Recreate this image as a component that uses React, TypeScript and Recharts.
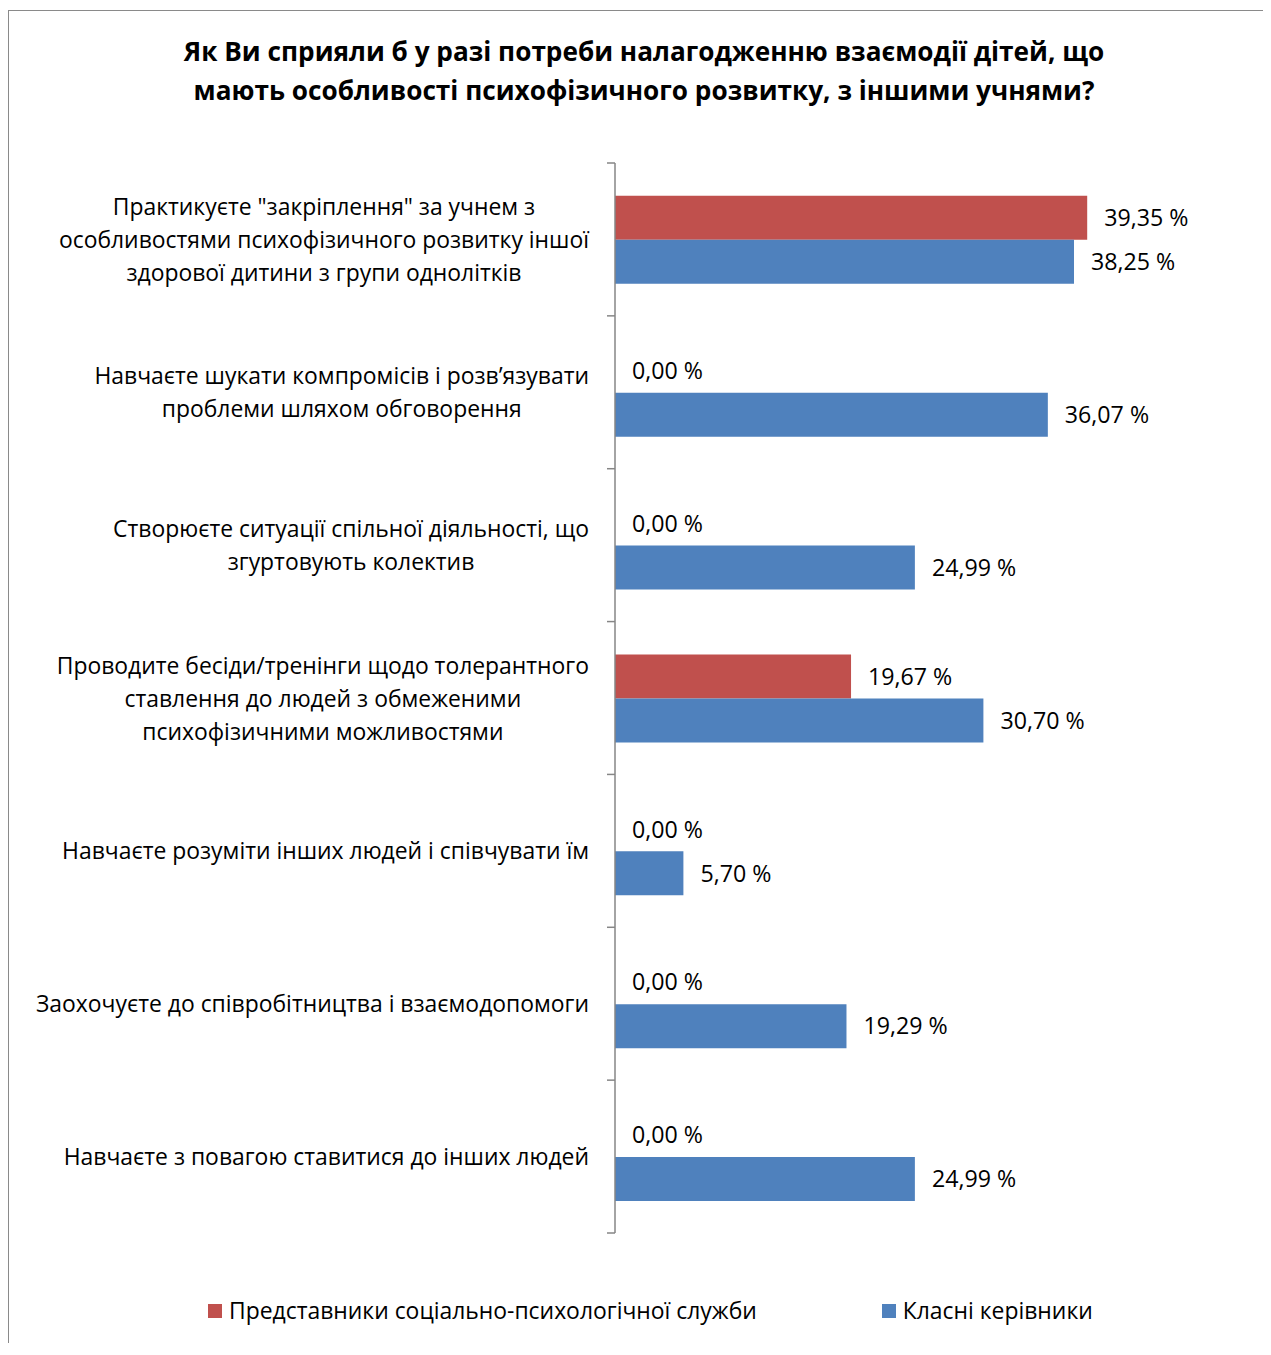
import React from "react";
import { BarChart, Bar, XAxis, YAxis, LabelList } from "recharts";

const categories = [
  "Практикуєте \"закріплення\" за учнем з\nособливостями психофізичного розвитку іншої\nздорової дитини з групи однолітків",
  "Навчаєте шукати компромісів і розв’язувати\nпроблеми шляхом обговорення",
  "Створюєте ситуації спільної діяльності, що\nзгуртовують колектив",
  "Проводите бесіди/тренінги щодо толерантного\nставлення до людей з обмеженими\nпсихофізичними можливостями",
  "Навчаєте розуміти інших людей і співчувати їм",
  "Заохочуєте до співробітництва і взаємодопомоги",
  "Навчаєте з повагою ставитися до інших людей",
];

const socialService = [39.35, 0, 0, 19.67, 0, 0, 0];
const classTeachers = [38.25, 36.07, 24.99, 30.7, 5.7, 19.29, 24.99];

const seriesNames = ["Представники соціально-психологічної служби", "Класні керівники"];
const seriesColors = ["#C0504D", "#4F81BD"];

const title = [
  "Як Ви сприяли б у разі потреби налагодженню взаємодії дітей, що",
  "мають особливості психофізичного розвитку, з іншими учнями?",
];

const rows = categories.map((name, i) => ({
  name,
  a: socialService[i],
  b: classTeachers[i],
}));

const FONT = "'Open Sans', 'Liberation Sans', Arial, sans-serif";
const FONT_SIZE = 22.9;
const LABEL_SIZE = 23.2;
const W = 1255;
const H = 1335;
const MARGIN = { top: 155, right: 48, bottom: H - 1225, left: 0 };
const PLOT_H = H - MARGIN.top - MARGIN.bottom;
const TICK_SIZE = 8;
const TICK_MARGIN = 18;
const AXIS_COLOR = "#868686";

let ctx: CanvasRenderingContext2D | null = null;
function measure(s: string): number {
  if (!ctx) ctx = document.createElement("canvas").getContext("2d");
  if (!ctx) return s.length * FONT_SIZE * 0.55;
  ctx.font = `${FONT_SIZE}px ${FONT}`;
  return ctx.measureText(s).width;
}

function CategoryTick(props: any) {
  const { x, y, payload, index } = props;
  const lines: string[] = String(payload.value).split("\n");
  const maxW = Math.max(...lines.map(measure));
  const cx = x - maxW / 2;
  const lh = 33;
  const y0 = y - ((lines.length - 1) * lh) / 2;
  const band = PLOT_H / categories.length;
  const ax = x + TICK_MARGIN;
  return (
    <g>
      {lines.map((ln, i) => (
        <text
          key={i}
          x={cx}
          y={y0 + i * lh}
          textAnchor="middle"
          dominantBaseline="central"
          fontFamily={FONT}
          fontSize={FONT_SIZE}
          fill="#000"
        >
          {ln}
        </text>
      ))}
      <line x1={ax} x2={ax + TICK_SIZE} y1={y - band / 2} y2={y - band / 2} stroke={AXIS_COLOR} strokeWidth={1.5} />
      {index === categories.length - 1 && (
        <line x1={ax} x2={ax + TICK_SIZE} y1={y + band / 2} y2={y + band / 2} stroke={AXIS_COLOR} strokeWidth={1.5} />
      )}
    </g>
  );
}

const fmt = (v: any) => Number(v).toFixed(2).replace(".", ",") + " %";

export default function App() {
  return (
    <div style={{ position: "relative", width: W, height: H, overflow: "hidden", background: "#fff" }}>
      <div
        style={{
          position: "absolute",
          left: 0,
          top: 2,
          width: W + 40,
          height: H + 40,
          borderTop: "1.5px solid #8a8a8a",
          borderLeft: "1.5px solid #8a8a8a",
        }}
      />
      <div
        style={{
          position: "absolute",
          left: 0,
          top: 24,
          width: 1272,
          textAlign: "center",
          fontFamily: FONT,
          fontWeight: "bold",
          fontSize: 26.2,
          lineHeight: "39px",
          color: "#000",
        }}
      >
        {title.map((t) => (
          <div key={t}>{t}</div>
        ))}
      </div>
      <BarChart
        width={W}
        height={H}
        data={rows}
        layout="vertical"
        margin={MARGIN}
        barCategoryGap="21.5%"
        barGap={0}
        style={{ position: "absolute", left: 0, top: 0 }}
      >
        <XAxis type="number" domain={[0, 50]} hide />
        <YAxis
          type="category"
          dataKey="name"
          width={607}
          interval={0}
          tickLine={false}
          tickSize={TICK_SIZE}
          tickMargin={TICK_MARGIN}
          axisLine={{ stroke: AXIS_COLOR, strokeWidth: 1.5 }}
          tick={<CategoryTick />}
        />
        <Bar dataKey="a" name={seriesNames[0]} fill={seriesColors[0]} minPointSize={0.01} isAnimationActive={false}>
          <LabelList dataKey="a" position="right" offset={17} formatter={fmt} fill="#000" fontSize={LABEL_SIZE} fontFamily={FONT} />
        </Bar>
        <Bar dataKey="b" name={seriesNames[1]} fill={seriesColors[1]} isAnimationActive={false}>
          <LabelList dataKey="b" position="right" offset={17} formatter={fmt} fill="#000" fontSize={LABEL_SIZE} fontFamily={FONT} />
        </Bar>
      </BarChart>
      <div
        style={{
          position: "absolute",
          left: 200,
          top: 1286,
          display: "flex",
          alignItems: "center",
          fontFamily: FONT,
          fontSize: FONT_SIZE,
          lineHeight: "33px",
          color: "#000",
        }}
      >
        {seriesNames.map((n, i) => (
          <div key={n} style={{ display: "flex", alignItems: "center", marginRight: 125 }}>
            <span style={{ width: 14, height: 14, background: seriesColors[i], display: "inline-block", marginRight: 7 }} />
            <span>{n}</span>
          </div>
        ))}
      </div>
    </div>
  );
}
